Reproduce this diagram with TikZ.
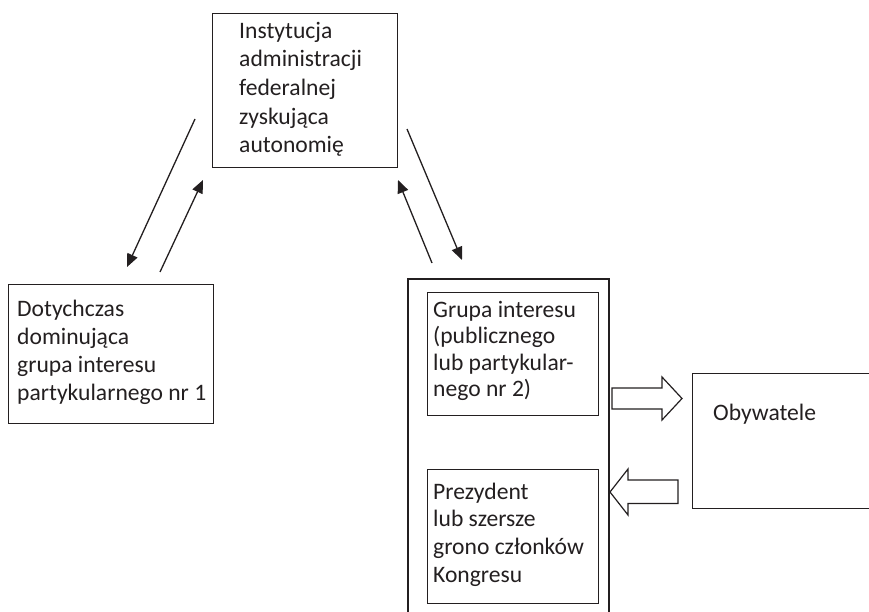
\documentclass[tikz,border=0pt]{standalone}
\usepackage{fontspec}
\setmainfont{Carlito}
\usetikzlibrary{arrows.meta}
\definecolor{ink}{HTML}{231F20}

\begin{document}
\begin{tikzpicture}[x=1pt,y=-1pt,
  box/.style={draw=ink, line width=1.4pt, inner sep=0pt, anchor=north west},
  outerbox/.style={draw=ink, line width=2.4pt, inner sep=0pt, anchor=north west},
  % multi-line labels are placed by the baseline of their last line
  label/.style={anchor=base west, inner sep=0pt, align=left, text=ink,
    font=\fontsize{23.6}{#1}\selectfont},
  label/.default=28,
  link/.style={draw=ink, line width=1.3pt, -{Triangle[length=13pt,width=11pt]}},
  fat/.style={draw=ink, line width=1.2pt, fill=white, line join=miter}]
\useasboundingbox (0,0) rectangle (869,612);

% boxes
\node[box, minimum width=185pt, minimum height=154pt] (inst) at (212,13) {};
\node[box, minimum width=205pt, minimum height=139pt] (dom) at (8,284) {};
\node[outerbox, minimum width=201pt, minimum height=360pt] (grp) at (407,278) {};
\node[box, minimum width=171pt, minimum height=123pt] (ig) at (427,292) {};
\node[box, minimum width=171pt, minimum height=134pt] (pres) at (427,469) {};
\node[box, minimum width=200pt, minimum height=135pt] (obyw) at (692,373) {};

% texts
\node[label=28.7] (tinst) at (239,153) {Instytucja\\administracji\\federalnej\\zyskująca\\autonomię};
\node[label=27.7] (tdom) at (17,400) {Dotychczas\\dominująca\\grupa interesu\\partykularnego nr 1};
\node[label=26.5] (tig) at (433,396.5) {Grupa interesu\\(publicznego\\lub partykular-\\nego nr 2)};
\node[label=27.8] (tpres) at (433,582.5) {Prezydent\\lub szersze\\grono członków\\Kongresu};
\node[label] (tobyw) at (713,420) {Obywatele};

% ends of the thin arrows
\coordinate (a1s) at (195,119); \coordinate (a1e) at (127,267);
\coordinate (a2s) at (160,272); \coordinate (a2e) at (203,180);
\coordinate (a3s) at (407,129); \coordinate (a3e) at (462,260);
\coordinate (a4s) at (432,263); \coordinate (a4e) at (398,180);
\draw[link] (a1s) -- (a1e);
\draw[link] (a2s) -- (a2e);
\draw[link] (a3s) -- (a3e);
\draw[link] (a4s) -- (a4e);

% block arrows between the group and the citizens
\coordinate (outtip) at (682,398.5);
\coordinate (intip) at (610,492);
\draw[fat] (612,388) -- (662,388) -- (662,377) -- (outtip) -- (662,420) -- (662,409) -- (612,409) -- cycle;
\draw[fat] (intip) -- (628,469) -- (628,480) -- (678,480) -- (678,503.5) -- (628,503.5) -- (628,515) -- cycle;
\end{tikzpicture}
\end{document}
